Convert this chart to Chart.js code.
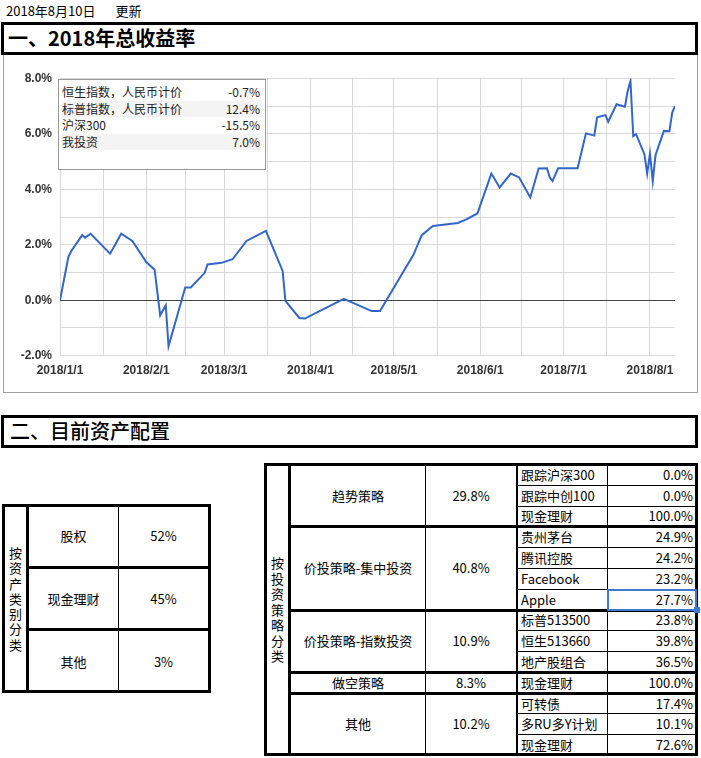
<!DOCTYPE html>
<html><head><meta charset="utf-8">
<script src="https://cdn.jsdelivr.net/npm/chart.js@4.4.0/dist/chart.umd.min.js"></script>
<style>
html,body{margin:0;padding:0;background:#fff;}
body{width:701px;height:758px;position:relative;overflow:hidden;font-family:"Noto Sans CJK SC","Noto Sans",sans-serif;color:#000;}
.abs{position:absolute;}
.cell{position:absolute;display:flex;align-items:center;font-size:13px;line-height:1;white-space:nowrap;box-sizing:border-box;}
.ln{position:absolute;background:#000;}
#legend{position:absolute;left:58px;top:79px;width:208px;height:91px;border:1px solid #9a9a9a;background:#fff;box-sizing:border-box;}
#legend .row{position:absolute;left:3px;width:200px;height:16.5px;font-size:12px;line-height:16.5px;color:#222;}
#legend .row span.v{position:absolute;right:2px;top:0;}
</style></head><body>
<div class="abs" style="left:6px;top:2px;font-size:13px;line-height:18px;">2018年8月10日<span style="display:inline-block;width:20px"></span>更新</div>
<div class="abs" style="left:1px;top:22px;width:697px;height:33px;border:3px solid #000;box-sizing:border-box;"></div>
<div class="abs" style="left:8px;top:24px;font-size:20px;font-weight:700;line-height:28px;">一、2018年总收益率</div>
<div class="abs" style="left:3px;top:55px;width:695px;height:338px;border:1px solid #a0a0a0;border-top:none;box-sizing:border-box;"></div>
<canvas id="c" width="692" height="335" style="position:absolute;left:4px;top:56px;"></canvas>
<div id="legend"></div>
<div class="abs" style="left:1px;top:415px;width:697px;height:33px;border:3px solid #000;box-sizing:border-box;"></div>
<div class="abs" style="left:10px;top:417px;font-size:20px;font-weight:500;line-height:28px;">二、目前资产配置</div>
<div id="tables"></div>
<script>
// ---- chart data ----
const dates = ['2018/1/1','2018/1/4','2018/1/5','2018/1/9','2018/1/10','2018/1/12','2018/1/19','2018/1/23','2018/1/27',
 '2018/2/1','2018/2/4','2018/2/6','2018/2/8','2018/2/9','2018/2/15','2018/2/17','2018/2/22','2018/2/23','2018/2/28',
 '2018/3/4','2018/3/9','2018/3/16','2018/3/22','2018/3/23','2018/3/28','2018/3/30',
 '2018/4/13','2018/4/23','2018/4/26','2018/5/8','2018/5/11','2018/5/15','2018/5/24','2018/5/27','2018/5/31',
 '2018/6/5','2018/6/8','2018/6/12','2018/6/15','2018/6/19','2018/6/22','2018/6/25','2018/6/26','2018/6/27','2018/6/29',
 '2018/7/6','2018/7/9','2018/7/12','2018/7/13','2018/7/16','2018/7/17','2018/7/20','2018/7/23','2018/7/24','2018/7/25',
 '2018/7/26','2018/7/27','2018/7/30','2018/7/31','2018/8/1','2018/8/2','2018/8/3','2018/8/6','2018/8/8','2018/8/9','2018/8/10'];
const myReturn = [0.0,1.56,1.77,2.35,2.26,2.40,1.68,2.40,2.14,
 1.38,1.10,-0.54,-0.18,-1.66,0.46,0.46,0.99,1.29,1.35,
 1.48,2.14,2.50,1.06,-0.02,-0.64,-0.66,
 0.05,-0.39,-0.39,1.64,2.35,2.68,2.79,2.92,3.13,
 4.57,4.07,4.57,4.43,3.71,4.75,4.76,4.43,4.30,4.76,
 4.76,6.02,5.94,6.60,6.68,6.44,7.07,6.98,7.55,7.91,
 5.92,5.99,5.27,4.57,5.29,4.30,5.23,6.11,6.10,6.77,7.00];
const xTickLabels = ['2018/1/1','2018/2/1','2018/3/1','2018/4/1','2018/5/1','2018/6/1','2018/7/1','2018/8/1'];
const yMin = -2, yMax = 8;
const legendNames = ['恒生指数，人民币计价','标普指数，人民币计价','沪深300','我投资'];
const legendValues = ['-0.7%','12.4%','-15.5%','7.0%'];

// ---- table data ----
const assetClassTitle = '按资产类别分类';
const assetClasses = ['股权','现金理财','其他'];
const assetPcts = ['52%','45%','3%'];
const strategyTitle = '按投资策略分类';
const strategies = ['趋势策略','价投策略-集中投资','价投策略-指数投资','做空策略','其他'];
const strategyPcts = ['29.8%','40.8%','10.9%','8.3%','10.2%'];
const holdingNames = [['跟踪沪深300','跟踪中创100','现金理财'],['贵州茅台','腾讯控股','Facebook','Apple'],['标普513500','恒生513660','地产股组合'],['现金理财'],['可转债','多RU多Y计划','现金理财']];
const holdingPcts = [['0.0%','0.0%','100.0%'],['24.9%','24.2%','23.2%','27.7%'],['23.8%','39.8%','36.5%'],['100.0%'],['17.4%','10.1%','72.6%']];

function dayOf(s){const p=s.split('/').map(Number);return (Date.UTC(p[0],p[1]-1,p[2])-Date.UTC(2018,0,1))/86400000;}
const majorDays = xTickLabels.map(dayOf);
const points = dates.map((d,i)=>({x:dayOf(d),y:myReturn[i]}));

new Chart(document.getElementById('c'),{
  type:'line',
  data:{datasets:[{data:points,borderColor:'#3366cc',borderWidth:2,pointRadius:0,tension:0,fill:false}]},
  options:{
    responsive:false,animation:false,
    layout:{padding:{left:0,right:21,top:22.5,bottom:0}},
    plugins:{legend:{display:false},tooltip:{enabled:false}},
    scales:{
      x:{type:'linear',min:0,max:dayOf(dates[dates.length-1]),
        afterBuildTicks:(s)=>{const t=[];majorDays.forEach((d,i)=>{t.push({value:d});if(i<majorDays.length-1)t.push({value:(d+majorDays[i+1])/2});});s.ticks=t;},
        afterFit:(s)=>{s.height=35.3;},
        border:{display:false},
        grid:{color:'#d9d9d9',drawTicks:false},
        ticks:{autoSkip:false,maxRotation:0,padding:8,color:'#333',font:{family:'"Liberation Sans",Arial,sans-serif',size:12,weight:'bold'},
          callback:(v)=>{const i=majorDays.indexOf(v);return i>=0?xTickLabels[i]:'';}}
      },
      y:{min:yMin,max:yMax,
        afterFit:(s)=>{s.width=56;},
        border:{display:false},
        grid:{color:(c)=>c.tick&&c.tick.value===0?'#444':'#d9d9d9',drawTicks:false},
        ticks:{stepSize:1,padding:8,color:'#333',font:{family:'"Liberation Sans",Arial,sans-serif',size:12,weight:'bold'},
          callback:(v)=>(v%2===0?v.toFixed(1)+'%':'')}
      }
    }
  }
});

// legend overlay
const lg=document.getElementById('legend');
legendNames.forEach((n,i)=>{
  const r=document.createElement('div');r.className='row';
  r.style.top=(4+i*16.5)+'px';
  if(i%2===1)r.style.background='#f4f4f4';
  r.innerHTML='<span>'+n+'</span><span class="v">'+legendValues[i]+'</span>';
  lg.appendChild(r);
});

// tables
const T=document.getElementById('tables');
function ln(x,y,w,h,c){const d=document.createElement('div');d.className='ln';d.style.left=x+'px';d.style.top=y+'px';d.style.width=w+'px';d.style.height=h+'px';if(c)d.style.background=c;T.appendChild(d);}
function cell(x,y,w,h,txt,align,pad,extra){const d=document.createElement('div');d.className='cell';d.style.left=x+'px';d.style.top=y+'px';d.style.width=w+'px';d.style.height=h+'px';
  d.style.justifyContent=align==='l'?'flex-start':align==='r'?'flex-end':'center';
  if(pad){d.style.paddingLeft=pad[0]+'px';d.style.paddingRight=pad[1]+'px';}
  if(extra)Object.assign(d.style,extra);
  d.innerHTML=txt;T.appendChild(d);}
function vtext(x,y,w,h,txt,lh){cell(x,y,w,h,txt.split('').join('<br>'),'c',null,{lineHeight:lh+'px',textAlign:'center'});}

// left table
(function(){
  const L=2,R=211,Tp=504,B=693,c1=27,c2=118;
  const rowY=[Tp,567,629,B];
  ln(L,Tp,R-L,3);ln(L,B-3,R-L,3);ln(L,Tp,3,B-Tp);ln(R-3,Tp,3,B-Tp);
  ln(c1-1,Tp,3,B-Tp);ln(c2,Tp,1,B-Tp);
  ln(c1,rowY[1]-1,R-c1,3);ln(c1,rowY[2]-1,R-c1,3);
  vtext(L+3,Tp,c1-L-4,B-Tp,assetClassTitle,15.2);
  assetClasses.forEach((a,i)=>{
    cell(c1+2,rowY[i],c2-c1-2,rowY[i+1]-rowY[i],a,'c');
    cell(c2+1,rowY[i],R-c2-4,rowY[i+1]-rowY[i],assetPcts[i],'c');
  });
})();

// right table
(function(){
  const xs=[264,289,425,517,607,698],Tp=463,B=756,top=464,rh=(755-464)/14;
  // outer
  ln(xs[0],Tp,xs[5]-xs[0],3);ln(xs[0],B-3,xs[5]-xs[0],3);ln(xs[0],Tp,3,B-Tp);ln(xs[5]-3,Tp,3,B-Tp);
  ln(xs[1]-1,Tp,3,B-Tp);ln(xs[2],Tp,1,B-Tp);ln(xs[3]-1,Tp,2,B-Tp);ln(xs[4],Tp,1,B-Tp);
  vtext(xs[0]+3,Tp,xs[1]-xs[0]-4,B-Tp,strategyTitle,15.5);
  let r=0;
  strategies.forEach((s,g)=>{
    const n=holdingNames[g].length;
    const y0=top+r*rh,y1=top+(r+n)*rh;
    if(g>0)ln(xs[1],Math.round(y0)-1,xs[5]-xs[1],3);
    cell(xs[1]+2,y0,xs[2]-xs[1]-2,y1-y0,s,'c');
    cell(xs[2]+1,y0,xs[3]-xs[2]-2,y1-y0,strategyPcts[g],'c');
    holdingNames[g].forEach((h,k)=>{
      const hy=top+(r+k)*rh;
      if(k>0)ln(xs[3],Math.round(hy),xs[5]-xs[3],1);
      cell(xs[3]+1,hy,xs[4]-xs[3]-1,rh,h,'l',[3,0]);
      cell(xs[4]+1,hy,xs[5]-xs[4]-1,rh,holdingPcts[g][k],'r',[0,5]);
    });
    r+=n;
  });
  // selected cell (Apple)
  const sy=Math.round(top+6*rh);
  const sel=document.createElement('div');
  Object.assign(sel.style,{position:'absolute',left:(xs[4])+'px',top:(sy)+'px',width:(xs[5]-xs[4]-1)+'px',height:(Math.round(rh)+1)+'px',border:'2px solid #3a7bd5',boxSizing:'border-box'});
  T.appendChild(sel);
  ln(xs[5]-4,sy+Math.round(rh)-3,6,6,'#3a7bd5');
})();
</script>
</body></html>
